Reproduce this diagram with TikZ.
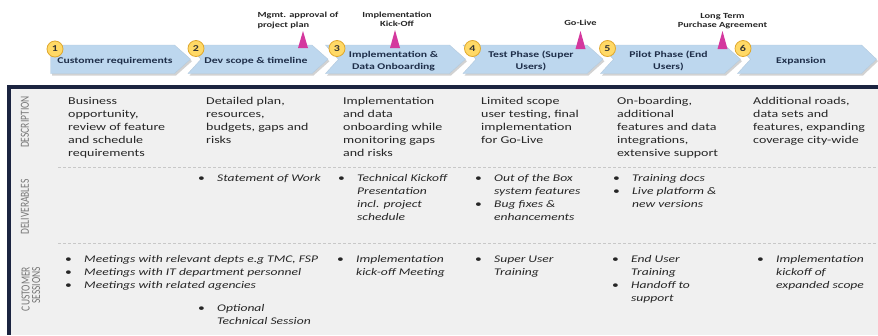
\documentclass[tikz,border=0pt]{standalone}
\usepackage{fontspec}
\setmainfont{Carlito}[FakeStretch=1.33]
\newfontfamily\sidefont{Carlito}

\definecolor{navy}{HTML}{1B2440}
\definecolor{panel}{HTML}{F0F0F0}
\definecolor{chevfill}{HTML}{BDD7EE}
\definecolor{chevtext}{HTML}{1F2F4A}
\definecolor{badgefill}{HTML}{FFD966}
\definecolor{badgeline}{HTML}{E0A82E}
\definecolor{pinkmark}{HTML}{D4389E}
\definecolor{sidegray}{HTML}{767676}
\definecolor{bodytext}{HTML}{262626}
\definecolor{dashgray}{HTML}{C8C8C8}

\newcommand{\lines}[1]{\begin{tabular}[t]{@{}l@{}}#1\end{tabular}}
\newcommand{\blist}[1]{\begin{tabular}[t]{@{}p{19pt}@{}l@{}}#1\end{tabular}}
\newcommand{\blt}{{\upshape\textbullet}}

\begin{document}
\begin{tikzpicture}[x=1pt,y=-1pt,
  chevron/.style={fill=chevfill,draw=chevfill!85!gray,line width=0.4pt},
  chevshadow/.style={fill=gray!35,draw=none},
  chevtxt/.style={align=center,text=chevtext,font=\fontsize{8.8}{11.5}\selectfont\bfseries},
  badge/.style={circle,fill=badgefill,draw=badgeline,line width=0.8pt,minimum size=16pt,inner sep=0pt,text=black!80,font=\fontsize{9}{10}\selectfont\bfseries},
  milestone/.style={fill=pinkmark},
  mtxt/.style={align=center,text=black!85,font=\fontsize{7.8}{9.5}\selectfont\bfseries},
  sidelbl/.style={rotate=90,text=sidegray,font=\sidefont\fontsize{9.5}{10.5}\selectfont},
  desctxt/.style={anchor=base west,inner sep=0pt,text=bodytext,font=\fontsize{10.5}{13}\selectfont},
  bullets/.style={desctxt,font=\fontsize{10.2}{13}\selectfont\itshape},
  rowline/.style={dashgray,line width=0.8pt,dash pattern=on 3pt off 2pt}]
\useasboundingbox (0,0) rectangle (878,335);

% panel
\fill[panel] (11,88.5) rectangle (878,335);
\fill[navy] (7,85) rectangle (878,88.5);
\fill[navy] (7,85) rectangle (11,335);
\draw[rowline] (58,167) -- (878,167);
\draw[rowline] (58,243) -- (878,243);

% chevrons
\fill[chevshadow,shift={(1.5,2)}] (50.5,45) -- (174.5,45) -- (190.5,59.2) -- (174.5,73.5) -- (50.5,73.5) -- cycle;
\fill[chevshadow,shift={(1.5,2)}] (188,45) -- (312,45) -- (328,59.2) -- (312,73.5) -- (188,73.5) -- (201,59.2) -- cycle;
\fill[chevshadow,shift={(1.5,2)}] (325.5,45) -- (449.5,45) -- (465.5,59.2) -- (449.5,73.5) -- (325.5,73.5) -- (338.5,59.2) -- cycle;
\fill[chevshadow,shift={(1.5,2)}] (463,45) -- (587,45) -- (603,59.2) -- (587,73.5) -- (463,73.5) -- (476,59.2) -- cycle;
\fill[chevshadow,shift={(1.5,2)}] (600.5,45) -- (724.5,45) -- (740.5,59.2) -- (724.5,73.5) -- (600.5,73.5) -- (613.5,59.2) -- cycle;
\fill[chevshadow,shift={(1.5,2)}] (737.5,45) -- (861.5,45) -- (876.5,59.2) -- (861.5,73.5) -- (737.5,73.5) -- (750.5,59.2) -- cycle;

\draw[chevron] (50.5,45) -- (174.5,45) -- (190.5,59.2) -- (174.5,73.5) -- (50.5,73.5) -- cycle;
\draw[chevron] (188,45) -- (312,45) -- (328,59.2) -- (312,73.5) -- (188,73.5) -- (201,59.2) -- cycle;
\draw[chevron] (325.5,45) -- (449.5,45) -- (465.5,59.2) -- (449.5,73.5) -- (325.5,73.5) -- (338.5,59.2) -- cycle;
\draw[chevron] (463,45) -- (587,45) -- (603,59.2) -- (587,73.5) -- (463,73.5) -- (476,59.2) -- cycle;
\draw[chevron] (600.5,45) -- (724.5,45) -- (740.5,59.2) -- (724.5,73.5) -- (600.5,73.5) -- (613.5,59.2) -- cycle;
\draw[chevron] (737.5,45) -- (861.5,45) -- (876.5,59.2) -- (861.5,73.5) -- (737.5,73.5) -- (750.5,59.2) -- cycle;

\node[chevtxt] (ph1) at (115,61) {Customer requirements};
\node[chevtxt] (ph2) at (256,61) {Dev scope \& timeline};
\node[chevtxt] (ph3) at (393.5,61) {Implementation \&\\Data Onboarding};
\node[chevtxt] (ph4) at (531,61) {Test Phase (Super\\Users)};
\node[chevtxt] (ph5) at (668.5,61) {Pilot Phase (End\\Users)};
\node[chevtxt] (ph6) at (801,61) {Expansion};

\node[badge] (b1) at (55,49) {1};
\node[badge] (b2) at (196,48.5) {2};
\node[badge] (b3) at (337,48.5) {3};
\node[badge] (b4) at (472.5,48.5) {4};
\node[badge] (b5) at (607.5,48.5) {5};
\node[badge] (b6) at (743,48.5) {6};

% milestones
\fill[milestone] (298,48) -- (303,31) -- (308,48) -- cycle;
\fill[milestone] (390,48) -- (395,30) -- (400,48) -- cycle;
\fill[milestone] (575.5,49) -- (580.5,31) -- (585.5,49) -- cycle;
\fill[milestone] (717.5,49) -- (722.5,31) -- (727.5,49) -- cycle;
\node[mtxt,align=left,anchor=west] (m1) at (254,20.5) {Mgmt. approval of\\project plan};
\node[mtxt] (m2) at (397,19.5) {Implementation\\Kick-Off};
\node[mtxt] (m3) at (580.5,22.5) {Go-Live};
\node[mtxt] (m4) at (722.5,21) {Long Term\\Purchase Agreement};

% row labels
\node[sidelbl] (lbl1) at (25,122) {\scalebox{1}[1.3]{DESCRIPTION}};
\node[sidelbl] (lbl2) at (25,207) {\scalebox{1}[1.3]{DELIVERABLES}};
\node[sidelbl,align=right] (lbl3) at (31,289) {\scalebox{1}[1.3]{CUSTOMER}\\\scalebox{1}[1.3]{SESSIONS}};

% description
\node[desctxt] (d1) at (68,104.5) {\lines{Business\\opportunity,\\review of feature\\and schedule\\requirements}};
\node[desctxt] (d2) at (206,104.5) {\lines{Detailed plan,\\resources,\\budgets, gaps and\\risks}};
\node[desctxt] (d3) at (343,104.5) {\lines{Implementation\\and data\\onboarding while\\monitoring gaps\\and risks}};
\node[desctxt] (d4) at (481,104.5) {\lines{Limited scope\\user testing, final\\implementation\\for Go-Live}};
\node[desctxt] (d5) at (617,104.5) {\lines{On-boarding,\\additional\\features and data\\integrations,\\extensive support}};
\node[desctxt] (d6) at (753,104.5) {\lines{Additional roads,\\data sets and\\features, expanding\\coverage city-wide}};

% deliverables
\node[bullets] (v2) at (198,181.5) {\blist{\blt & Statement of Work}};
\node[bullets] (v3) at (338,181.5) {\blist{\blt & Technical Kickoff\\ & Presentation\\ & incl. project\\ & schedule}};
\node[bullets] (v4) at (475,181.5) {\blist{\blt & Out of the Box\\ & system features\\ \blt & Bug fixes \&\\ & enhancements}};
\node[bullets] (v5) at (613,181.5) {\blist{\blt & Training docs\\ \blt & Live platform \&\\ & new versions}};

% customer sessions
\node[bullets] (s1) at (65,262.5) {\blist{\blt & Meetings with relevant depts e.g TMC, FSP\\ \blt & Meetings with IT department personnel\\ \blt & Meetings with related agencies}};
\node[bullets] (s2) at (198,311.5) {\blist{\blt & Optional\\ & Technical Session}};
\node[bullets] (s3) at (337,262.5) {\blist{\blt & Implementation\\ & kick-off Meeting}};
\node[bullets] (s4) at (475,262.5) {\blist{\blt & Super User\\ & Training}};
\node[bullets] (s5) at (612,262.5) {\blist{\blt & End User\\ & Training\\ \blt & Handoff to\\ & support}};
\node[bullets] (s6) at (757,262.5) {\blist{\blt & Implementation\\ & kickoff of\\ & expanded scope}};
\end{tikzpicture}
\end{document}
